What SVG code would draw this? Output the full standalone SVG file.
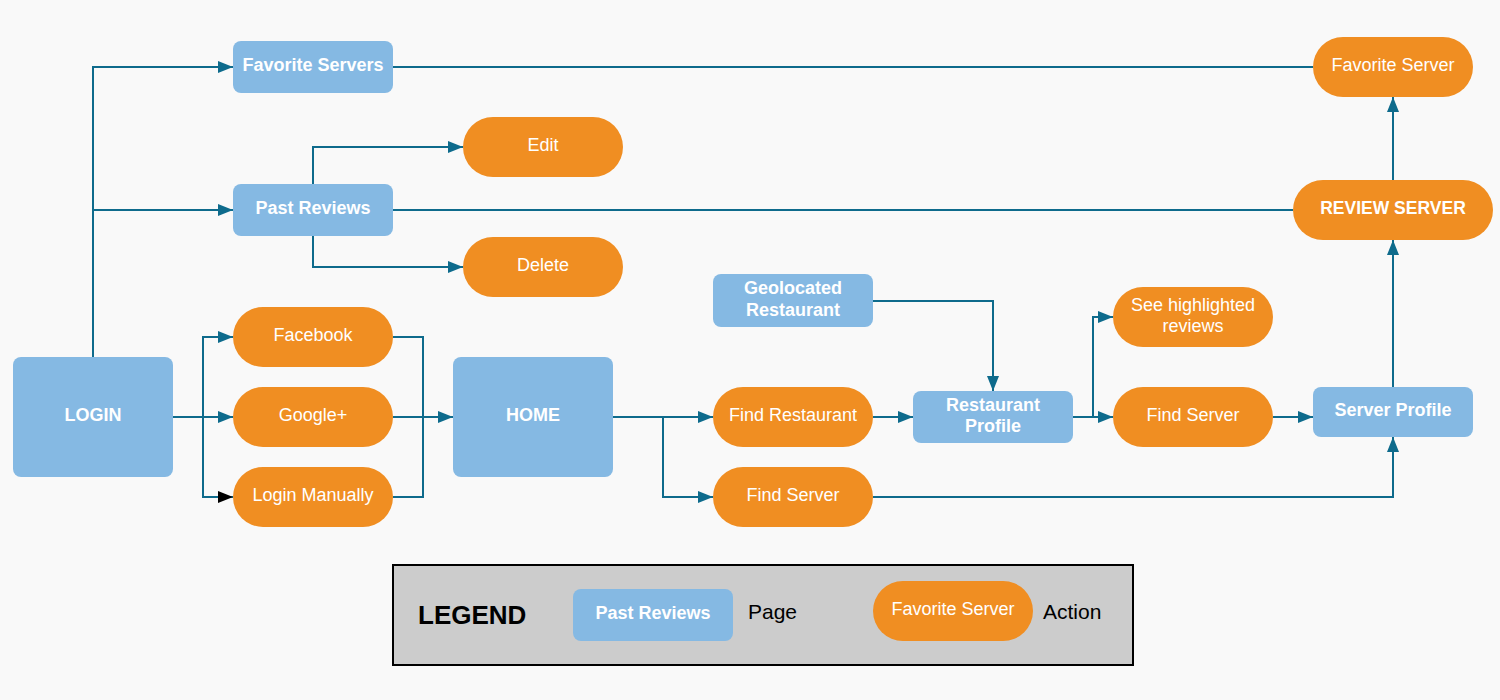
<svg xmlns="http://www.w3.org/2000/svg" width="1500" height="700" viewBox="0 0 1500 700">
  <style>
    .page { fill: #85b9e3; }
    .action { fill: #f08e22; }
    .pt { font-family: "Liberation Sans", Arial, sans-serif; font-size: 18px; font-weight: bold; fill: #ffffff; text-anchor: middle; }
    .at { font-family: "Liberation Sans", Arial, sans-serif; font-size: 18px; fill: #ffffff; text-anchor: middle; }
    .conn { fill: none; stroke: #0e6b8c; stroke-width: 2; }
    .lg { font-family: "Liberation Sans", Arial, sans-serif; fill: #000000; }
  </style>
  <defs>
    <marker id="arr" markerUnits="userSpaceOnUse" markerWidth="15" markerHeight="12" refX="15" refY="6" orient="auto">
      <path d="M0,0 L15,6 L0,12 z" fill="#0e6b8c"/>
    </marker>
    <marker id="arrb" markerUnits="userSpaceOnUse" markerWidth="15" markerHeight="12" refX="15" refY="6" orient="auto">
      <path d="M0,0 L15,6 L0,12 z" fill="#000000"/>
    </marker>
  </defs>
  <rect x="0" y="0" width="1500" height="700" fill="#f9f9f9"/>

  <g id="connectors">
    <path class="conn" d="M93,357 V67 H233" marker-end="url(#arr)"/>
    <path class="conn" d="M93,210 H233" marker-end="url(#arr)"/>
    <path class="conn" d="M313,184 V147 H463" marker-end="url(#arr)"/>
    <path class="conn" d="M313,236 V267 H463" marker-end="url(#arr)"/>
    <path class="conn" d="M393,67 H1313"/>
    <path class="conn" d="M393,210 H1293"/>
    <path class="conn" d="M173,417 H233" marker-end="url(#arr)"/>
    <path class="conn" d="M203,417 V337 H233" marker-end="url(#arr)"/>
    <path class="conn" d="M203,417 V497 H233" marker-end="url(#arrb)"/>
    <path class="conn" d="M393,337 H423 V497 H393"/>
    <path class="conn" d="M393,417 H453" marker-end="url(#arr)"/>
    <path class="conn" d="M613,417 H713" marker-end="url(#arr)"/>
    <path class="conn" d="M663,417 V497 H713" marker-end="url(#arr)"/>
    <path class="conn" d="M873,301 H993 V391" marker-end="url(#arr)"/>
    <path class="conn" d="M873,417 H913" marker-end="url(#arr)"/>
    <path class="conn" d="M1073,417 H1113" marker-end="url(#arr)"/>
    <path class="conn" d="M1093,417 V317 H1113" marker-end="url(#arr)"/>
    <path class="conn" d="M1273,417 H1313" marker-end="url(#arr)"/>
    <path class="conn" d="M873,497 H1393 V437" marker-end="url(#arr)"/>
    <path class="conn" d="M1393,387 V240" marker-end="url(#arr)"/>
    <path class="conn" d="M1393,180 V97" marker-end="url(#arr)"/>
  </g>

  <g id="favorite-servers"><rect class="page" x="233" y="41" width="160" height="52" rx="8"/><text class="pt" x="313" y="71">Favorite Servers</text></g>
  <g id="past-reviews"><rect class="page" x="233" y="184" width="160" height="52" rx="8"/><text class="pt" x="313" y="214">Past Reviews</text></g>
  <g id="edit"><rect class="action" x="463" y="117" width="160" height="60" rx="30"/><text class="at" x="543" y="151">Edit</text></g>
  <g id="delete"><rect class="action" x="463" y="237" width="160" height="60" rx="30"/><text class="at" x="543" y="271">Delete</text></g>
  <g id="login"><rect class="page" x="13" y="357" width="160" height="120" rx="8"/><text class="pt" x="93" y="421">LOGIN</text></g>
  <g id="facebook"><rect class="action" x="233" y="307" width="160" height="60" rx="30"/><text class="at" x="313" y="341">Facebook</text></g>
  <g id="google"><rect class="action" x="233" y="387" width="160" height="60" rx="30"/><text class="at" x="313" y="421">Google+</text></g>
  <g id="login-manually"><rect class="action" x="233" y="467" width="160" height="60" rx="30"/><text class="at" x="313" y="501">Login Manually</text></g>
  <g id="home"><rect class="page" x="453" y="357" width="160" height="120" rx="8"/><text class="pt" x="533" y="421">HOME</text></g>
  <g id="geolocated"><rect class="page" x="713" y="274" width="160" height="53" rx="8"/><text class="pt" x="793" y="294">Geolocated</text><text class="pt" x="793" y="316">Restaurant</text></g>
  <g id="find-restaurant"><rect class="action" x="713" y="387" width="160" height="60" rx="30"/><text class="at" x="793" y="421">Find Restaurant</text></g>
  <g id="find-server-1"><rect class="action" x="713" y="467" width="160" height="60" rx="30"/><text class="at" x="793" y="501">Find Server</text></g>
  <g id="restaurant-profile"><rect class="page" x="913" y="391" width="160" height="52" rx="8"/><text class="pt" x="993" y="411">Restaurant</text><text class="pt" x="993" y="432">Profile</text></g>
  <g id="see-highlighted"><rect class="action" x="1113" y="287" width="160" height="60" rx="30"/><text class="at" x="1193" y="311">See highlighted</text><text class="at" x="1193" y="332">reviews</text></g>
  <g id="find-server-2"><rect class="action" x="1113" y="387" width="160" height="60" rx="30"/><text class="at" x="1193" y="421">Find Server</text></g>
  <g id="server-profile"><rect class="page" x="1313" y="387" width="160" height="50" rx="8"/><text class="pt" x="1393" y="416">Server Profile</text></g>
  <g id="review-server"><rect class="action" x="1293" y="180" width="200" height="60" rx="30"/><text class="pt" x="1393" y="214" style="font-size:17.5px">REVIEW SERVER</text></g>
  <g id="favorite-server"><rect class="action" x="1313" y="37" width="160" height="60" rx="30"/><text class="at" x="1393" y="71">Favorite Server</text></g>

  <g id="legend">
    <rect x="393" y="565" width="740" height="100" fill="#cccccc" stroke="#000000" stroke-width="2"/>
    <text class="lg" x="418" y="624" style="font-size:26px;font-weight:bold">LEGEND</text>
    <rect class="page" x="573" y="589" width="160" height="52" rx="8"/>
    <text class="pt" x="653" y="619">Past Reviews</text>
    <text class="lg" x="748" y="619" style="font-size:21px">Page</text>
    <rect class="action" x="873" y="581" width="160" height="60" rx="30"/>
    <text class="at" x="953" y="615">Favorite Server</text>
    <text class="lg" x="1043" y="619" style="font-size:21px">Action</text>
  </g>
</svg>
